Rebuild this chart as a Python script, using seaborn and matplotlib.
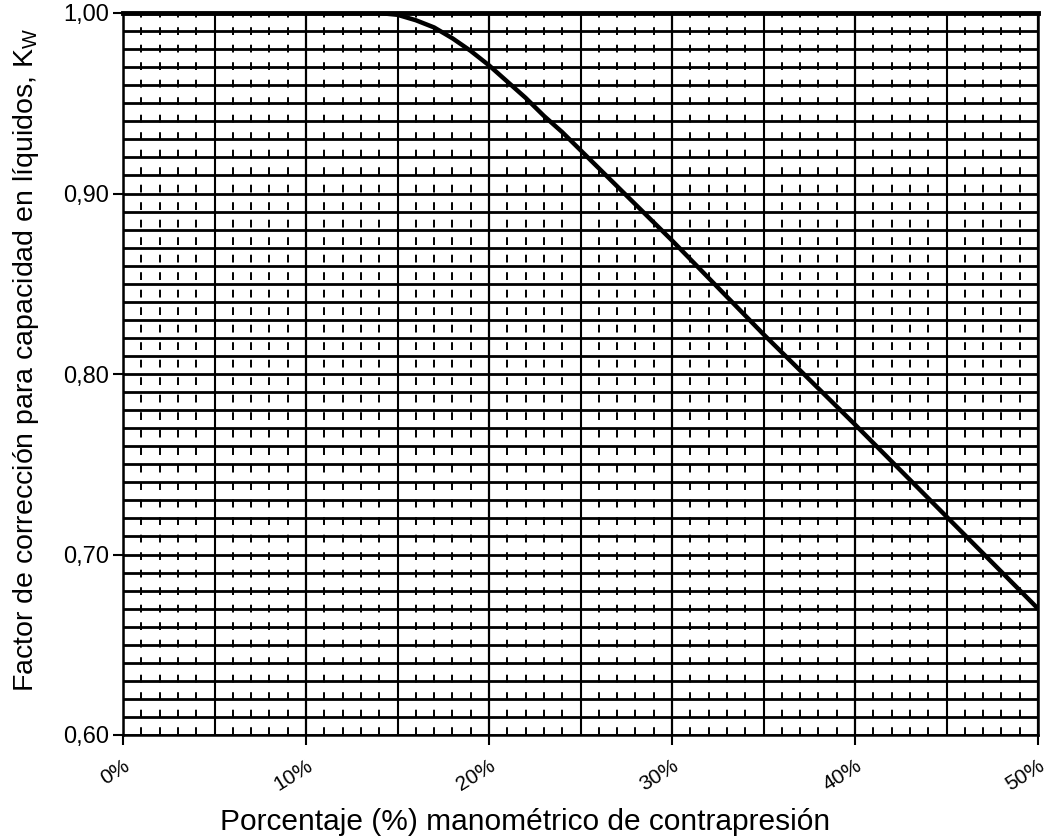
import numpy as np
import pandas as pd
import seaborn as sns
import matplotlib
matplotlib.use("Agg")
import matplotlib.pyplot as plt
from matplotlib.ticker import MultipleLocator

# ---- data ----
backpressure_pct = [0, 5, 10, 14, 15, 16, 17, 18, 19, 20, 21, 22, 23, 24, 25,
                    30, 35, 40, 45, 50]
kw_factor = [1.000, 1.000, 1.000, 1.000, 0.999, 0.996, 0.992, 0.986, 0.979, 0.971,
             0.962, 0.953, 0.943, 0.934, 0.924, 0.874, 0.822, 0.772, 0.721, 0.670]
x_tick_values = [0, 10, 20, 30, 40, 50]
x_tick_labels = ["0%", "10%", "20%", "30%", "40%", "50%"]
y_tick_values = [0.60, 0.70, 0.80, 0.90, 1.00]
y_tick_labels = ["0,60", "0,70", "0,80", "0,90", "1,00"]
x_label = "Porcentaje (%) manométrico de contrapresión"
y_label = "Factor de corrección para capacidad en líquidos, K$_\\mathregular{W}$"

df = pd.DataFrame({"x": backpressure_pct, "kw": kw_factor})

sns.set_theme(style="white")
plt.rcParams["font.family"] = ["Liberation Sans", "DejaVu Sans"]
plt.rcParams["mathtext.fontset"] = "custom"
plt.rcParams["mathtext.rm"] = "Liberation Sans"
plt.rcParams["text.color"] = "black"
plt.rcParams["xtick.color"] = "black"
plt.rcParams["ytick.color"] = "black"
plt.rcParams["xtick.labelcolor"] = "black"
plt.rcParams["ytick.labelcolor"] = "black"

fig = plt.figure(figsize=(10.54, 8.40), dpi=100)
ax = fig.add_axes([123 / 1054, 1 - 735 / 840, (1038 - 123) / 1054, (735 - 13) / 840])

ax.set_xlim(0, 50)
ax.set_ylim(0.60, 1.00)

# grid: horizontal every 0.01 (solid), vertical every 1% dashed, every 5% solid
ax.yaxis.set_minor_locator(MultipleLocator(0.01))
ax.xaxis.set_minor_locator(MultipleLocator(1))
ax.grid(which="minor", axis="y", color="black", linewidth=2.0, linestyle="-")
ax.grid(which="major", axis="y", color="black", linewidth=2.0, linestyle="-")
ax.grid(which="minor", axis="x", color="black", linewidth=1.4, linestyle=(0, (4, 5)))
ax.grid(which="major", axis="x", color="black", linewidth=1.6, linestyle="-")
five_lines = np.arange(5, 50, 10)
ax.vlines(five_lines, 0.60, 1.00, colors="black", linewidth=1.5, zorder=1)
ax.set_axisbelow(True)

sns.lineplot(data=df, x="x", y="kw", ax=ax, color="black", linewidth=3.2, zorder=5)

ax.set_xticks(x_tick_values)
ax.set_xticklabels(x_tick_labels, rotation=32, ha="right", va="top",
                   rotation_mode="anchor", fontsize=15, color="black")
ax.set_yticks(y_tick_values)
ax.set_yticklabels(y_tick_labels, fontsize=17, color="black")
ax.tick_params(axis="both", which="major", direction="out", length=7, width=1.5,
               color="black", left=True, bottom=True, pad=3)
ax.tick_params(axis="x", which="major", pad=8)
ax.tick_params(which="minor", length=0)

for s in ax.spines.values():
    s.set_color("black")
    s.set_linewidth(1.8)
ax.spines["top"].set_linewidth(3.5)

ax.set_xlabel("")
ax.set_ylabel("")
fig.text(525 / 1054, 1 - 822 / 840, x_label, ha="center", va="center",
         fontsize=21.5, color="black")
fig.text(26 / 1054, 1 - 360 / 840, y_label, ha="center", va="center",
         rotation=90, fontsize=20.5, color="black")

fig.savefig("out.png", dpi=100, facecolor="white")
